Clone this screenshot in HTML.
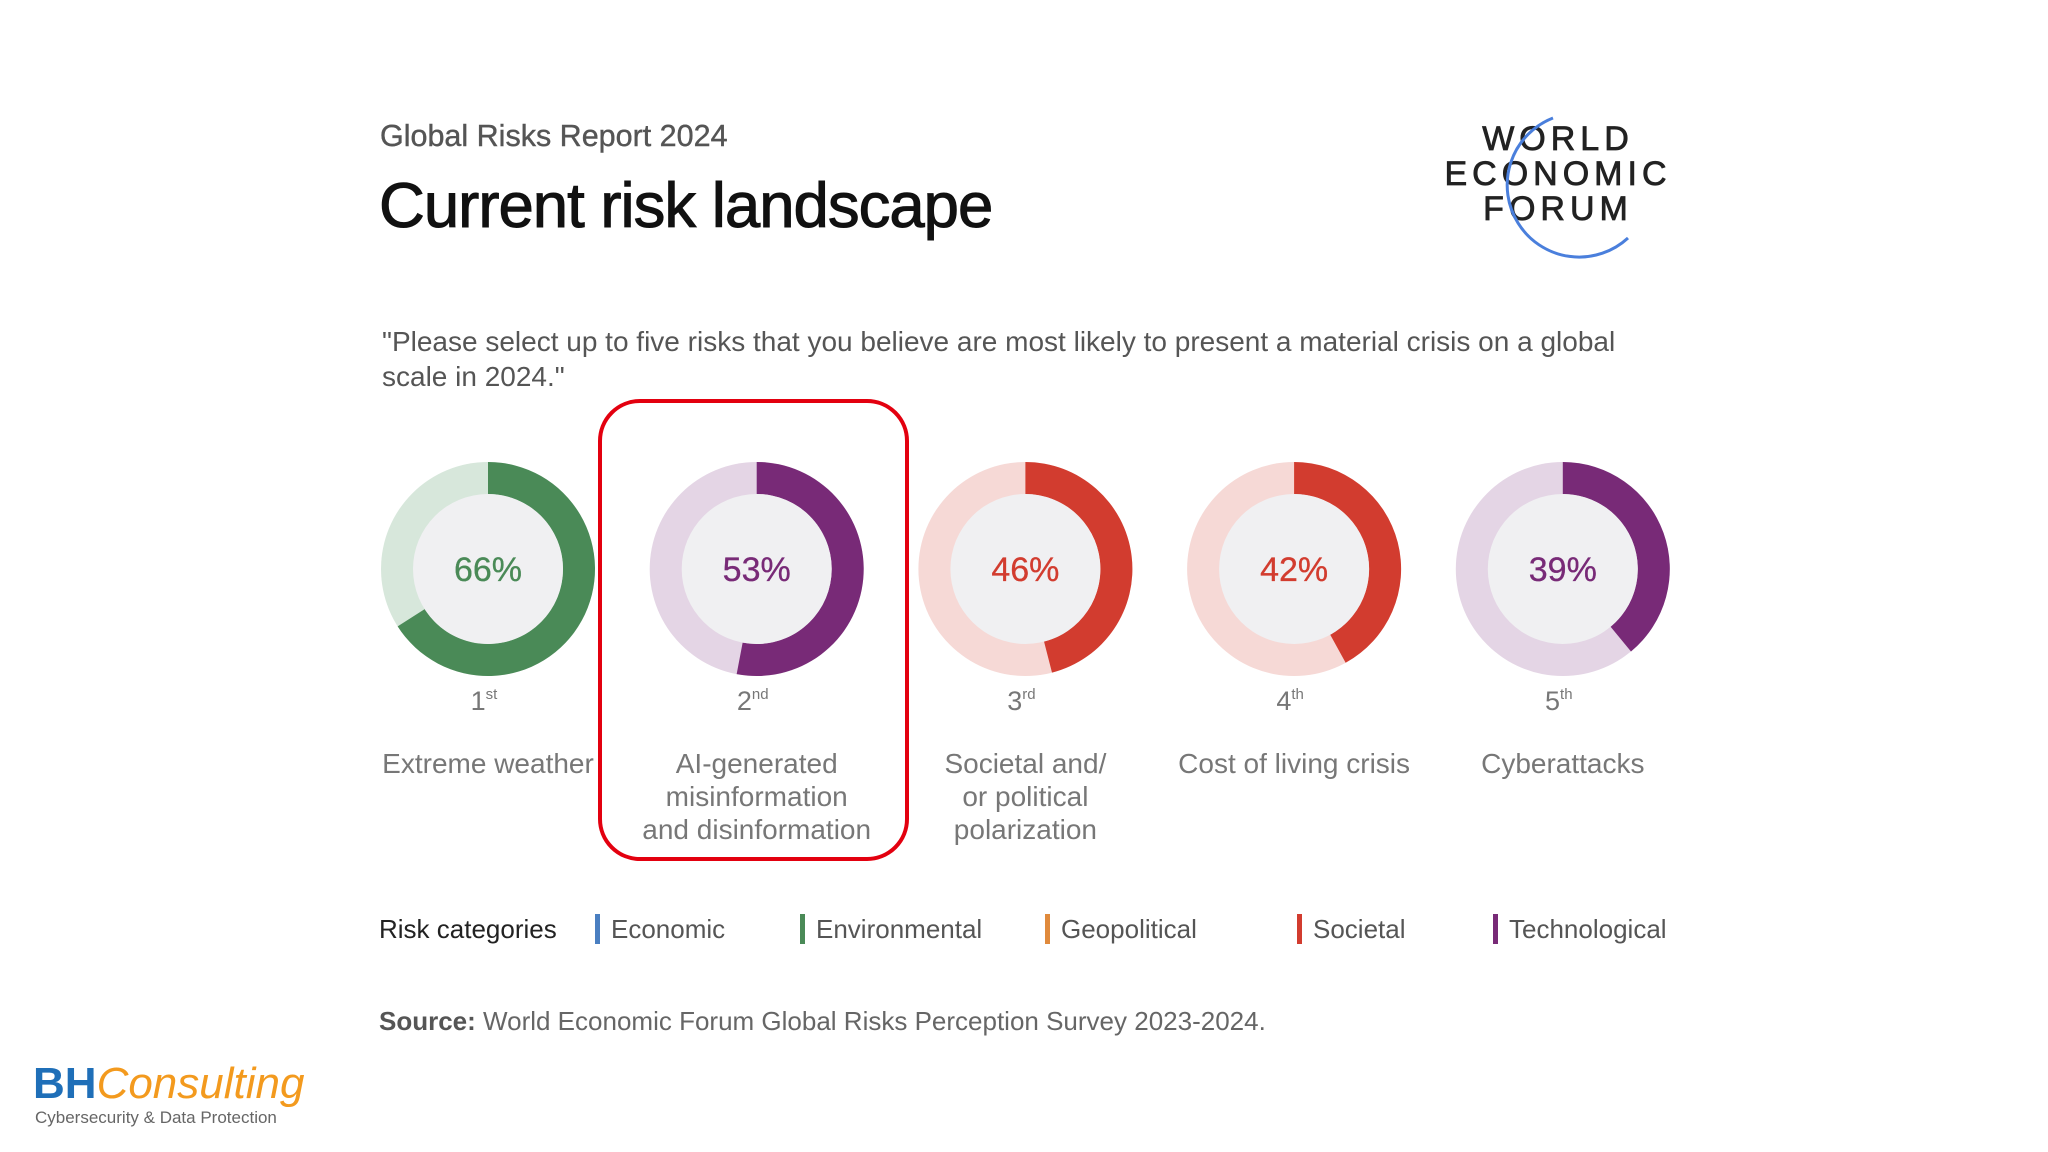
<!DOCTYPE html>
<html><head><meta charset="utf-8"><style>
body{margin:0;width:2048px;height:1152px;background:#fff;font-family:"Liberation Sans",sans-serif;overflow:hidden;position:relative}
.t{position:absolute;white-space:nowrap}
</style></head><body>
<div class="t" style="left:380px;top:119px;font-size:30.5px;color:#555;-webkit-text-stroke:0.4px #555">Global Risks Report 2024</div>
<div class="t" style="left:379px;top:170px;font-size:63.5px;color:#111;letter-spacing:-1px;-webkit-text-stroke:1px #111">Current risk landscape</div>
<div class="t" style="left:382px;top:324px;font-size:28px;line-height:35px;color:#555;white-space:normal;width:1262px">"Please select up to five risks that you believe are most likely to present a material crisis on a global scale in 2024."</div>
<svg width="2048" height="1152" style="position:absolute;left:0;top:0">
<g font-family="Liberation Sans,sans-serif" font-size="34" fill="#222" stroke="#222" stroke-width="0.8" text-anchor="middle" letter-spacing="5">
<text x="1558" y="150">WORLD</text><text x="1558" y="185">ECONOMIC</text><text x="1558" y="220">FORUM</text></g>
<path d="M1553 118 A72 72 0 1 0 1628 238" fill="none" stroke="#4a7fdc" stroke-width="3"/>
<rect x="600" y="401" width="307" height="458" rx="40" fill="none" stroke="#e3000f" stroke-width="4"/>
<g id="donuts"></g>
</svg>
<div class="t" style="left:379px;top:914px;font-size:26px;color:#222">Risk categories</div>
<div id="legend"></div>
<div class="t" style="left:379px;top:1006px;font-size:26px;color:#666"><b style="color:#555">Source:</b> World Economic Forum Global Risks Perception Survey 2023-2024.</div>
<div class="t" style="left:33px;top:1062px;font-size:44px;line-height:44px"><b style="color:#1f6fb8">BH</b><i style="color:#f39a1e">Consulting</i></div>
<div class="t" style="left:35px;top:1108px;font-size:17px;color:#666">Cybersecurity &amp; Data Protection</div>
<script>
const labels=[["Extreme weather"],["AI-generated","misinformation","and disinformation"],["Societal and/","or political","polarization"],["Cost of living crisis"],["Cyberattacks"]];
const values=[66,53,46,42,39];
const ranks=["1","2","3","4","5"];
const suffixes=["st","nd","rd","th","th"];
const categories=["Environmental","Technological","Societal","Societal","Technological"];
const legendNames=["Economic","Environmental","Geopolitical","Societal","Technological"];
const pal={Economic:["#4a7fc1","#dbe5f2"],Environmental:["#4a8a57","#d7e7db"],Geopolitical:["#e08a3c","#f7e2cf"],Societal:["#d23c2f","#f6d9d6"],Technological:["#782a77","#e4d5e5"]};
const ns="http://www.w3.org/2000/svg";
const g=document.getElementById('donuts');
const x0=488,dx=268.7,cy=569,R=107,r=75;
function xPos(i){return x0+i*dx;}
function pt(cx,a,rad){return [cx+rad*Math.sin(a),cy-rad*Math.cos(a)];}
function mk(t,at){const e=document.createElementNS(ns,t);for(const k in at)e.setAttribute(k,at[k]);g.appendChild(e);return e;}
values.forEach((v,i)=>{
 const cx=xPos(i),c=pal[categories[i]];
 const bg=mk('circle',{cx:cx,cy:cy,r:R,fill:c[1]});
 
 
 const a=v/100*2*Math.PI,[x1,y1]=pt(cx,0,R),[x2,y2]=pt(cx,a,R),[x3,y3]=pt(cx,a,r),[x4,y4]=pt(cx,0,r),lg=v>50?1:0;
 const p=mk('path',{d:`M${x1} ${y1}A${R} ${R} 0 ${lg} 1 ${x2} ${y2}L${x3} ${y3}A${r} ${r} 0 ${lg} 0 ${x4} ${y4}Z`,fill:c[0]});
 
 
 const ic=mk('circle',{cx:cx,cy:cy,r:r,fill:"#f0f0f2"});
 
 
 const t=mk('text',{x:cx,y:cy+12,'text-anchor':'middle','font-size':34,fill:c[0],stroke:c[0],'stroke-width':0.3,'font-family':'Liberation Sans,sans-serif'});t.textContent=v+'%';
 
 
 const rk=mk('text',{x:cx-4,y:710,'text-anchor':'middle','font-size':27,fill:'#777','font-family':'Liberation Sans,sans-serif'});
 
 
 rk.textContent=ranks[i];const s=document.createElementNS(ns,'tspan');s.setAttribute('font-size',15);s.setAttribute('dy',-11);s.textContent=suffixes[i];rk.appendChild(s);
 labels[i].forEach((l,j)=>{const lt=mk('text',{x:cx,y:773+j*33,'text-anchor':'middle','font-size':28,fill:'#777','font-family':'Liberation Sans,sans-serif'});lt.textContent=l;
 
 });
});
const lx=[595,800,1045,1297,1493];
const L=document.getElementById('legend');
legendNames.forEach((n,i)=>{
 const d=document.createElement('div');d.className='t';
 
 
 d.style.cssText=`left:${lx[i]}px;top:914px;font-size:26px;color:#555`;
 d.innerHTML=`<span style="display:inline-block;width:5px;height:30px;background:${pal[n][0]};vertical-align:-6px;margin-right:11px"></span>${n}`;
 L.appendChild(d);
});
</script>
</body></html>
